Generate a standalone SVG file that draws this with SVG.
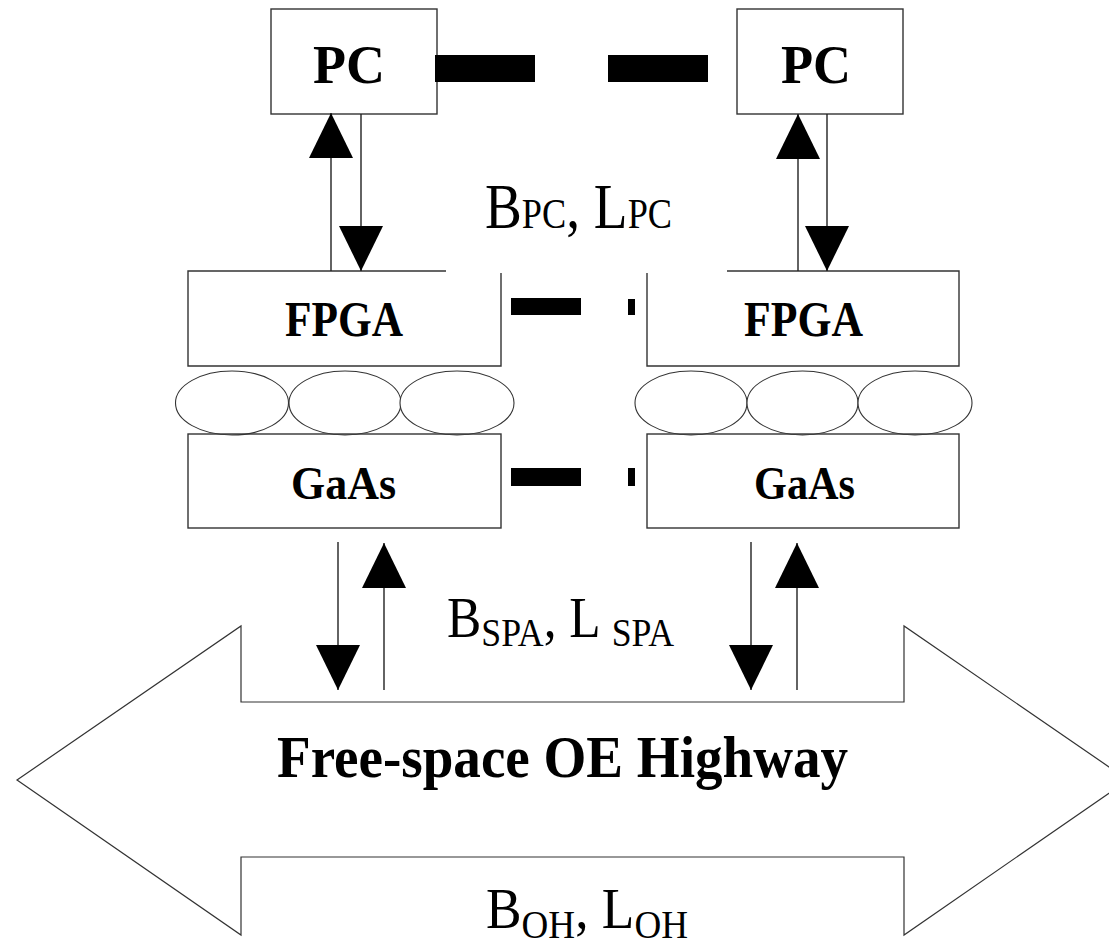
<svg xmlns="http://www.w3.org/2000/svg" width="1109" height="942" viewBox="0 0 1109 942">
<style>
  .box{fill:none;stroke:#333;stroke-width:1.4}
  .bar{fill:#000}
  .ell{fill:#fff;stroke:#333;stroke-width:1.1}
  .ln{stroke:#222;stroke-width:1.4;fill:none}
  .hw{fill:#fff;stroke:#333;stroke-width:1.2}
  .bt{font-family:"Liberation Serif","Times New Roman",serif;font-weight:bold;fill:#000}
  .lt{font-family:"Liberation Serif","Times New Roman",serif;fill:#000}
</style>
<defs>
  <marker id="ah" viewBox="0 0 45 44" refX="45" refY="22" markerWidth="45" markerHeight="44" markerUnits="userSpaceOnUse" orient="auto">
    <path d="M0,0 L45,22 L0,44 Z" fill="#000"/>
  </marker>
</defs>
<rect width="1109" height="942" fill="#fff"/>

<g id="highway">
  <path class="hw" d="M17,780 L241,626 L241,702 L904,702 L904,626 L1128,780 L904,935 L904,857 L241,857 L241,935 Z"/>
  <text class="bt" x="277" y="777" font-size="60" textLength="571" lengthAdjust="spacingAndGlyphs">Free-space OE Highway</text>
</g>

<g id="pc-left">
  <rect class="box" x="271" y="9" width="166" height="105"/>
  <text class="bt" x="313" y="83" font-size="54" textLength="72" lengthAdjust="spacingAndGlyphs">PC</text>
</g>
<g id="pc-right">
  <rect class="box" x="737" y="9" width="166" height="105"/>
  <text class="bt" x="781" y="83" font-size="54" textLength="70" lengthAdjust="spacingAndGlyphs">PC</text>
</g>

<g id="fpga-left">
  <path class="box" d="M446,271 H188 V366 H501 V273"/>
  <text class="bt" x="285" y="336" font-size="50" textLength="118" lengthAdjust="spacingAndGlyphs">FPGA</text>
</g>
<g id="fpga-right">
  <path class="box" d="M727,271 H959 V366 H647 V273"/>
  <text class="bt" x="744" y="336" font-size="50" textLength="119" lengthAdjust="spacingAndGlyphs">FPGA</text>
</g>

<g id="bumps-left">
  <ellipse class="ell" cx="232" cy="403" rx="56.5" ry="32"/>
  <ellipse class="ell" cx="345" cy="403" rx="56" ry="32"/>
  <ellipse class="ell" cx="457" cy="403" rx="57" ry="32"/>
</g>
<g id="bumps-right">
  <ellipse class="ell" cx="691" cy="403" rx="56" ry="32"/>
  <ellipse class="ell" cx="802.5" cy="403" rx="55.5" ry="32"/>
  <ellipse class="ell" cx="915" cy="403" rx="57" ry="32"/>
</g>

<g id="gaas-left">
  <rect class="box" x="188" y="434" width="313" height="94"/>
  <text class="bt" x="291" y="499" font-size="47" textLength="105" lengthAdjust="spacingAndGlyphs">GaAs</text>
</g>
<g id="gaas-right">
  <rect class="box" x="647" y="434" width="312" height="94"/>
  <text class="bt" x="754" y="499" font-size="47" textLength="101" lengthAdjust="spacingAndGlyphs">GaAs</text>
</g>

<g id="links">
  <rect class="bar" x="435" y="55" width="100" height="27"/>
  <rect class="bar" x="608" y="55" width="100" height="27"/>
  <rect class="bar" x="511" y="298" width="70" height="17"/>
  <rect class="bar" x="628" y="299" width="7" height="16"/>
  <rect class="bar" x="511" y="468" width="70" height="18"/>
  <rect class="bar" x="628" y="468" width="7" height="18"/>
</g>

<g id="connectors">
  <line class="ln" x1="331" y1="271" x2="331" y2="113" marker-end="url(#ah)"/>
  <line class="ln" x1="361" y1="114" x2="361" y2="271" marker-end="url(#ah)"/>
  <line class="ln" x1="798" y1="271" x2="798" y2="114" marker-end="url(#ah)"/>
  <line class="ln" x1="827" y1="114" x2="827" y2="271" marker-end="url(#ah)"/>
  <line class="ln" x1="338" y1="542" x2="338" y2="690" marker-end="url(#ah)"/>
  <line class="ln" x1="384" y1="690" x2="384" y2="543" marker-end="url(#ah)"/>
  <line class="ln" x1="751" y1="542" x2="751" y2="690" marker-end="url(#ah)"/>
  <line class="ln" x1="797" y1="690" x2="797" y2="543" marker-end="url(#ah)"/>
</g>

<g id="labels">
  <text class="lt" x="485" y="228" font-size="64" textLength="187" lengthAdjust="spacingAndGlyphs">B<tspan font-size="42">PC</tspan>, L<tspan font-size="42">PC</tspan></text>
  <text class="lt" x="447" y="637" font-size="56" textLength="227" lengthAdjust="spacingAndGlyphs">B<tspan font-size="39" dy="9">SPA</tspan><tspan dy="-9">, L </tspan><tspan font-size="39" dy="9">SPA</tspan></text>
  <text class="lt" x="486" y="928" font-size="56" textLength="202" lengthAdjust="spacingAndGlyphs">B<tspan font-size="39" dy="10">OH</tspan><tspan dy="-10">, L</tspan><tspan font-size="39" dy="10">OH</tspan></text>
</g>
</svg>
